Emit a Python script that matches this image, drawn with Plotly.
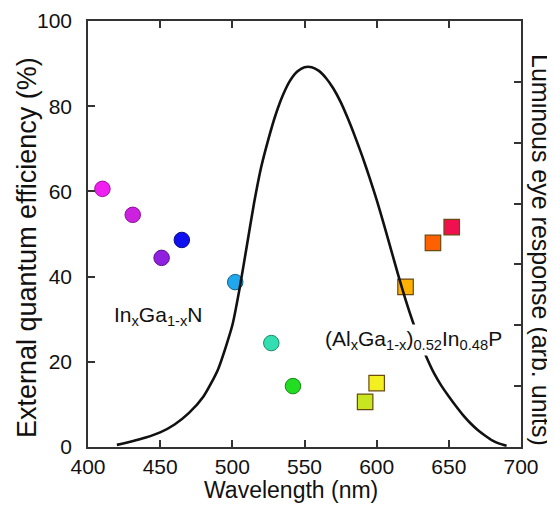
import plotly.graph_objects as go

# ---- data ----
ingan_wavelength = [410, 431, 451, 465, 502, 527, 542]
ingan_eqe = [60.6, 54.5, 44.4, 48.6, 38.7, 24.4, 14.3]

algainp_wavelength = [592, 600, 620, 639, 652]
algainp_eqe = [10.6, 15.0, 37.6, 47.9, 51.6]

eye_wavelength = [420, 430, 440, 450, 460, 470, 480, 490, 500, 505, 510, 515,
                  520, 525, 530, 535, 540, 545, 550, 555, 560, 565, 570, 575,
                  580, 585, 590, 595, 600, 605, 610, 615, 620, 625, 630, 635,
                  640, 645, 650, 655, 660, 665, 670, 675, 680, 685, 690]
eye_response = [0.035, 0.09, 0.155, 0.24, 0.37, 0.56, 0.83, 1.27, 2.0, 2.6,
                3.3, 4.0, 4.6, 5.06, 5.46, 5.78, 6.02, 6.17, 6.24, 6.24,
                6.18, 6.06, 5.89, 5.67, 5.40, 5.10, 4.78, 4.43, 4.06, 3.66,
                3.24, 2.82, 2.42, 2.06, 1.74, 1.45, 1.20, 1.00, 0.83, 0.67,
                0.52, 0.39, 0.28, 0.19, 0.11, 0.055, 0.02]

x_ticks = [400, 450, 500, 550, 600, 650, 700]
y_ticks = [0, 20, 40, 60, 80, 100]
y2_ticks = [1, 2, 3, 4, 5, 6]

# ---- styles ----
ingan_colors = ["#f020f0", "#cc22e0", "#9020e0", "#1010ee", "#20a8ee", "#33dfb0", "#22dd22"]
ingan_edges = ["#a010a0", "#8a1098", "#5a1090", "#0a0a90", "#10608a", "#1e8a6a", "#148814"]
algainp_colors = ["#c8e620", "#f2f020", "#ffb000", "#ff6000", "#f01050"]
algainp_edge = "#6a4a10"

FONT = "Liberation Sans, Arial, Helvetica, sans-serif"
AX = "#333333"
TXT = "#111111"

# page body has an 8px margin, so the figure is drawn 8px in from the corner
OFF = 8
W, H = 555 - OFF, 506 - OFF
L, R, T, B = 88 - OFF, 555 - 521, 21 - OFF, 506 - 447
PW, PH = W - L - R, H - T - B

fig = go.Figure()

fig.add_trace(go.Scatter(
    x=ingan_wavelength, y=ingan_eqe, mode="markers",
    marker=dict(symbol="circle", size=15.5, color=ingan_colors,
                line=dict(color=ingan_edges, width=1)),
    showlegend=False, yaxis="y"))

fig.add_trace(go.Scatter(
    x=algainp_wavelength, y=algainp_eqe, mode="markers",
    marker=dict(symbol="square", size=15.5, color=algainp_colors,
                line=dict(color=algainp_edge, width=1.2)),
    showlegend=False, yaxis="y"))

fig.add_trace(go.Scatter(
    x=eye_wavelength, y=eye_response, mode="lines",
    line=dict(color="#111111", width=2.6, shape="spline", smoothing=0.6),
    showlegend=False, yaxis="y2"))

fig.update_layout(
    width=W, height=H,
    margin=dict(l=L, r=R, t=T, b=B, autoexpand=False),
    paper_bgcolor="white", plot_bgcolor="white",
    font=dict(family=FONT, color=TXT),
    xaxis=dict(range=[400, 700], tickvals=x_ticks, ticks="inside", ticklen=7,
               tickwidth=1.5, tickcolor=AX, showline=True, linecolor=AX,
               linewidth=1.5, mirror="ticks", showgrid=False, zeroline=False,
               tickfont=dict(size=21, family=FONT, color=TXT),
               ticklabelstandoff=0),
    yaxis=dict(range=[0, 100], tickvals=y_ticks, ticks="inside", ticklen=7,
               tickwidth=1.5, tickcolor=AX, showline=True, linecolor=AX,
               linewidth=1.5, showgrid=False, zeroline=False,
               tickfont=dict(size=21, family=FONT, color=TXT),
               ticklabelstandoff=10),
    yaxis2=dict(range=[0, 7], tickvals=y2_ticks, ticks="inside", ticklen=7,
                tickwidth=1.5, tickcolor=AX, showline=True, linecolor=AX,
                linewidth=1.5, overlaying="y", side="right",
                showticklabels=False, showgrid=False, zeroline=False),
)

# positions below are in screenshot pixels
annotations = [
    dict(text="External quantum efficiency (%)", x=27, y=248, textangle=-90,
         font=dict(size=27)),
    dict(text="Luminous eye response (arb. units)", x=541, y=250, textangle=90,
         font=dict(size=25)),
    dict(text="Wavelength (nm)", x=291, y=490, font=dict(size=23)),
    dict(text="In<sub>x</sub>Ga<sub>1-x</sub>N", x=158, y=316, font=dict(size=21)),
    dict(text="(Al<sub>x</sub>Ga<sub>1-x</sub>)<sub>0.52</sub>In<sub>0.48</sub>P",
         x=413, y=340, font=dict(size=21), bgcolor="white", borderpad=2),
]
for a in annotations:
    px, py = a.pop("x") - OFF, a.pop("y") - OFF
    fig.add_annotation(x=(px - L) / PW, y=(H - B - py) / PH, xref="paper",
                       yref="paper", xanchor="center", yanchor="middle",
                       showarrow=False, **a)

fig.write_html("out.html")
